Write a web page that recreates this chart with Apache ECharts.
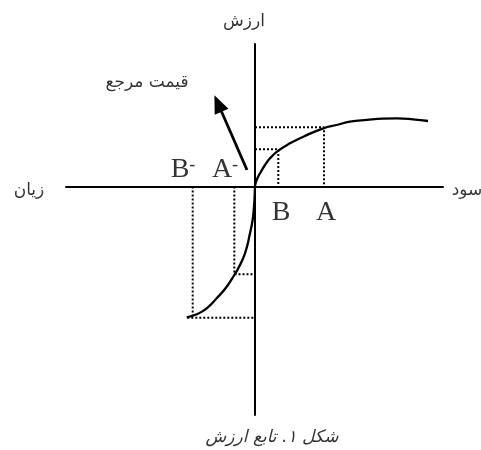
<!DOCTYPE html>
<html>
<head>
<meta charset="utf-8">
<script src="https://cdn.jsdelivr.net/npm/echarts@6/dist/echarts.min.js"></script>
<style>
  html, body { margin: 0; padding: 0; background: #fff; }
  #main { width: 481px; height: 450px; }
</style>
</head>
<body>
<div id="main"></div>
<script>
// value function, x = gain/loss, y = value
var lossCurve = [[-68.3, -130.8], [-58.3, -127.8], [-48.3, -121.8], [-38.3, -111.8], [-28.3, -100.2],
    [-20.7, -88.5], [-16.7, -81.8], [-10, -66.8], [-5, -46.8], [-2.3, -33], [-1, -20], [-0.3, -9], [0, 0]];
var gainCurve = [[0, 0], [1.7, 6.5], [5, 13.2], [10, 21.5], [15, 28.2], [23.3, 35.8], [35, 43.2],
    [48.3, 49.8], [68.3, 58.2], [81.7, 61.5], [95, 64.8], [112, 66.7], [128, 67.9], [142, 68.1], [158, 67.2], [173, 65.5]];

// dotted guides for A, B, A-, B-
var guides = [
    [[0, 37.3], [23.3, 37.3], [23.3, 0]],
    [[0, 59.2], [69, 59.2], [69, 0]],
    [[-20.7, 0], [-20.7, -87.8], [0, -87.8]],
    [[-62.3, 0], [-62.3, -131.2]],
    [[-67.7, -131.2], [0, -131.2]]
];

// reference point arrow
var arrowLine = [[-8, 16.5], [-37, 83]];

var pointNames = ['B', 'A', 'B', 'A'];
var pointMinus = [false, false, true, true];
var pointPos = [[26, -26.5], [71, -26.5], [-72, 16.5], [-30, 16.5]];

var persianTexts = ['ارزش', 'زیان', 'سود', 'قیمت مرجع'];
var persianPos = [[-11, 165], [-226, -4], [212, -4], [-108, 104]];
var caption = 'شکل ۱. تابع ارزش';
var captionPos = [17, -251];

var myChart = echarts.init(document.getElementById('main'));

var series = [];

guides.forEach(function (g) {
    series.push({
        type: 'line',
        data: g,
        symbol: 'none',
        silent: true,
        lineStyle: { color: '#000', width: 2, type: [2, 2] }
    });
});

series.push({
    type: 'line',
    data: lossCurve.concat(gainCurve.slice(1)),
    symbol: 'none',
    smooth: 0.5,
    silent: true,
    lineStyle: { color: '#000', width: 2.3 },
    markLine: {
        silent: true,
        symbol: ['none', 'triangle'],
        symbolSize: [15, 18],
        label: { show: false },
        lineStyle: { color: '#000', width: 2.8, type: 'solid' },
        data: [[{ coord: arrowLine[0] }, { coord: arrowLine[1] }]]
    }
});

series.push({
    type: 'scatter',
    clip: false,
    silent: true,
    symbolSize: 1,
    itemStyle: { color: 'transparent' },
    label: {
        show: true,
        position: 'inside',
        color: '#000',
        textBorderWidth: 0,
        formatter: function (p) {
            return pointMinus[p.dataIndex] ? '{m|' + p.name + '}{s|-}' : '{m|' + p.name + '}';
        },
        rich: {
            m: { fontFamily: '"Liberation Serif", "DejaVu Serif", serif', fontSize: 28, lineHeight: 28, color: '#000', textBorderWidth: 0 },
            s: { fontFamily: '"Liberation Serif", "DejaVu Serif", serif', fontSize: 18, lineHeight: 28, verticalAlign: 'top', color: '#000', textBorderWidth: 0 }
        }
    },
    data: pointNames.map(function (n, i) { return { name: n, value: pointPos[i] }; })
});

series.push({
    type: 'scatter',
    clip: false,
    silent: true,
    symbolSize: 1,
    itemStyle: { color: 'transparent' },
    label: {
        show: true,
        position: 'inside',
        color: '#000',
        textBorderWidth: 0,
        fontFamily: '"DejaVu Sans", sans-serif',
        fontSize: 17,
        formatter: '{b}'
    },
    data: persianTexts.map(function (n, i) { return { name: n, value: persianPos[i] }; })
        .concat([{
            name: caption,
            value: captionPos,
            label: { fontStyle: 'italic', fontSize: 17 }
        }])
});

myChart.setOption({
    animation: false,
    grid: { left: 66, right: 38, top: 44, bottom: 35 },
    xAxis: {
        type: 'value',
        min: -189,
        max: 188,
        axisLine: { onZero: true, lineStyle: { color: '#000', width: 2 } },
        axisTick: { show: false },
        axisLabel: { show: false },
        splitLine: { show: false }
    },
    yAxis: {
        type: 'value',
        min: -228.5,
        max: 142.5,
        axisLine: { show: true, onZero: true, lineStyle: { color: '#000', width: 2 } },
        axisTick: { show: false },
        axisLabel: { show: false },
        splitLine: { show: false }
    },
    series: series
});
</script>
</body>
</html>
